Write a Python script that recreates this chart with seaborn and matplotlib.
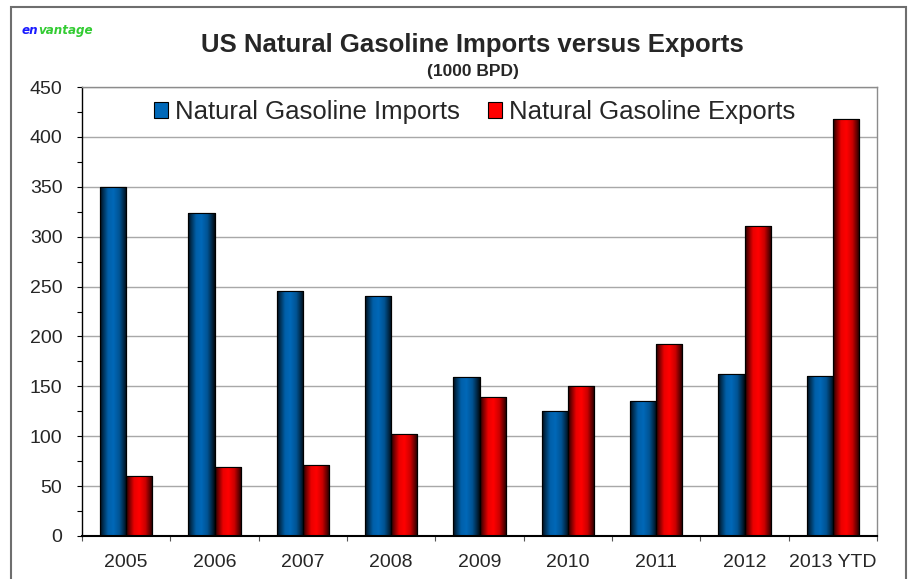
import numpy as np
import pandas as pd
import matplotlib
matplotlib.use('Agg')
import matplotlib.pyplot as plt
import seaborn as sns
from matplotlib.patches import Rectangle
from matplotlib.ticker import MultipleLocator, FixedLocator

years = ['2005', '2006', '2007', '2008', '2009', '2010', '2011', '2012', '2013 YTD']
imports = [350, 324, 246, 241, 159, 125, 135, 162, 160]
exports = [60, 69, 71, 102, 139, 150, 192, 311, 418]
series = ['Natural Gasoline Imports', 'Natural Gasoline Exports']
colors = ['#0068b8', '#ff0000']

df = pd.DataFrame({
    'Year': years * 2,
    'Value': imports + exports,
    'Series': [series[0]] * len(years) + [series[1]] * len(years),
})

sns.set_style('white')
plt.rcParams['font.family'] = ['Liberation Sans', 'DejaVu Sans']

W, H = 909, 579
fig = plt.figure(figsize=(W / 100, H / 100), dpi=100)
ax = fig.add_axes([82 / W, 1 - 536 / H, (877 - 82) / W, (536 - 87) / H])

sns.barplot(data=df, x='Year', y='Value', hue='Series', palette=colors,
            width=0.59, saturation=1, ax=ax, legend=False,
            edgecolor='black', linewidth=0.8, errorbar=None)

# gradient shading on bars
tpts = [0, 0.08, 0.3, 0.5, 0.72, 0.9, 1.0]
fpts = [0.08, 0.35, 0.92, 1.0, 0.8, 0.35, 0.08]
tt = np.linspace(0, 1, 200)
prof = np.interp(tt, tpts, fpts)
for p in list(ax.patches):
    w, h = p.get_width(), p.get_height()
    if h <= 0:
        continue
    x0, y0 = p.get_x(), p.get_y()
    base = np.array(p.get_facecolor()[:3])
    grad = (prof[:, None] * base[None, :])[None, :, :]
    im = ax.imshow(grad, extent=[x0, x0 + w, y0, y0 + h], aspect='auto',
                   zorder=p.get_zorder() + 0.05, interpolation='bilinear')
    im.set_clip_path(p)
    ax.add_patch(Rectangle((x0, y0), w, h, fill=False, ec='black', lw=0.8,
                           zorder=p.get_zorder() + 0.1))

ax.set_xlim(-0.5, len(years) - 0.5)
ax.set_ylim(0, 450)
ax.set_aspect('auto')

ax.yaxis.set_major_locator(MultipleLocator(50))
ax.yaxis.set_minor_locator(MultipleLocator(25))
ax.xaxis.set_minor_locator(FixedLocator(np.arange(-0.5, len(years), 1.0)))
ax.tick_params(axis='y', which='both', direction='out', length=3.6, width=0.8,
               color='black', left=True)
ax.tick_params(axis='y', which='major', labelsize=14, pad=10.5)
ax.tick_params(axis='x', which='major', length=0, labelsize=14, pad=13)
ax.tick_params(axis='x', which='minor', direction='out', length=3.6, width=0.8,
               color='#555555', bottom=True)
ax.set_axisbelow(True)
ax.yaxis.grid(True, which='major', color='#a8a8a8', lw=1)
ax.xaxis.grid(False)
ax.set_xlabel('')
ax.set_ylabel('')

ax.spines['left'].set_color('black')
ax.spines['left'].set_linewidth(1.0)
ax.spines['bottom'].set_color('black')
ax.spines['bottom'].set_linewidth(1.5)
for s in ['top', 'right']:
    ax.spines[s].set_color('#8c8c8c')
    ax.spines[s].set_linewidth(1.0)

handles = [Rectangle((0, 0), 1, 1, fc=c, ec='black', lw=0.8) for c in colors]
ax.legend(handles, series, loc='center left',
          bbox_to_anchor=((154 - 82) / 795, (536 - 112) / 449),
          ncol=2, frameon=False, fontsize=18.5, handlelength=0.55,
          handleheight=0.55, handletextpad=0.27, columnspacing=1.1,
          borderaxespad=0, borderpad=0)

fig.text(472.5 / W, 1 - 52 / H, 'US Natural Gasoline Imports versus Exports',
         ha='center', va='baseline', fontsize=18.5, fontweight='bold')
fig.text(472.5 / W, 1 - 76 / H, '(1000 BPD)', ha='center', va='baseline',
         fontsize=12.5, fontweight='bold')

logo_font = dict(fontsize=9.5, fontweight='bold', style='italic',
                 family='DejaVu Sans', fontstretch='condensed')
t = fig.text(22 / W, 1 - 34 / H, 'en', color='#1a1aff', va='baseline',
             **logo_font)
fig.canvas.draw()
ax.annotate('vantage', xy=(1, 0), xycoords=t, color='#33cc33', va='bottom',
            annotation_clip=False, **logo_font)

fig.patches.append(Rectangle((11 / W, -0.1), (906 - 11) / W, (H - 7) / H + 0.1,
                             transform=fig.transFigure, fill=False,
                             ec='#6e6e6e', lw=1.5))

fig.savefig('out.png', dpi=100)
